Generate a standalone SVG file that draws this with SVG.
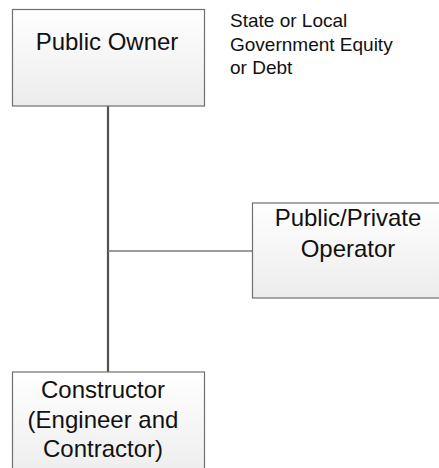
<svg xmlns="http://www.w3.org/2000/svg" width="439" height="468" viewBox="0 0 439 468">
<defs>
<linearGradient id="boxfill" x1="0" y1="0" x2="0" y2="1">
<stop offset="0" stop-color="#ffffff"/>
<stop offset="1" stop-color="#ececec"/>
</linearGradient>
<style>
.box{fill:url(#boxfill);stroke:#6f6f6f;stroke-width:1.2}
.lbl{font-family:"Liberation Sans",Arial,sans-serif;font-size:24px;fill:#111;text-anchor:middle}
.note{font-family:"Liberation Sans",Arial,sans-serif;font-size:19px;fill:#111}
</style>
</defs>
<rect width="439" height="468" fill="#ffffff"/>
<g id="connectors">
<line x1="108" y1="106" x2="108" y2="372" stroke="#505050" stroke-width="2.2"/>
<line x1="108" y1="251" x2="252" y2="251" stroke="#7a7a7a" stroke-width="1.4"/>
</g>
<g id="public-owner">
<rect class="box" x="12.5" y="9.5" width="192" height="96.5"/>
<text class="lbl" x="107" y="50">Public Owner</text>
</g>
<g id="note">
<text class="note" x="230" y="27">State or Local</text>
<text class="note" x="230" y="50.5">Government Equity</text>
<text class="note" x="230" y="74">or Debt</text>
</g>
<g id="operator">
<rect class="box" x="252.5" y="203" width="190" height="95"/>
<text class="lbl" x="348" y="226">Public/Private</text>
<text class="lbl" x="348" y="257">Operator</text>
</g>
<g id="constructor">
<rect class="box" x="12.5" y="372" width="192" height="110"/>
<text class="lbl" x="103" y="398">Constructor</text>
<text class="lbl" x="103" y="428">(Engineer and</text>
<text class="lbl" x="103" y="457">Contractor)</text>
</g>
</svg>
